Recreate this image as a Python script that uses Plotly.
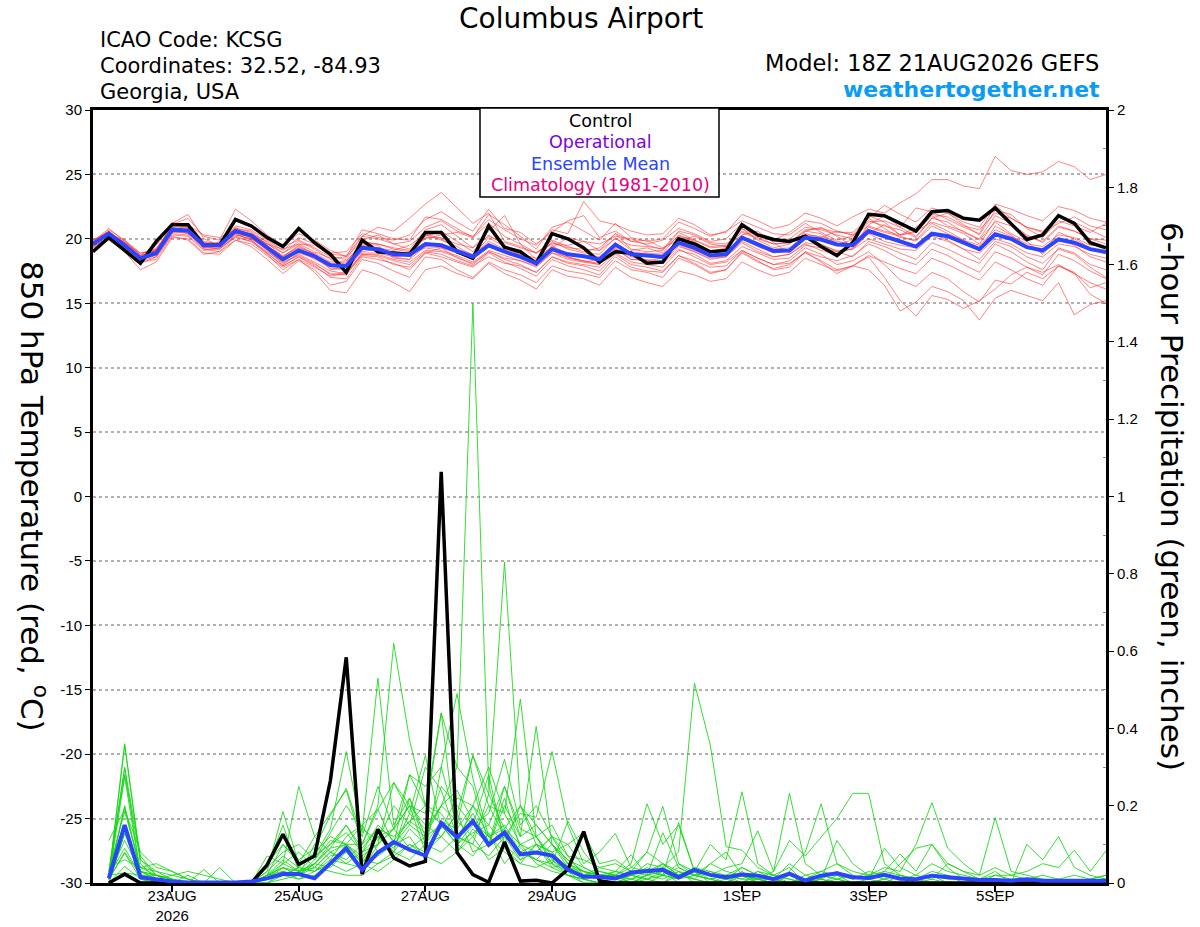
import pandas as pd
import plotly.graph_objects as go

# 6-hourly forecast times, 18Z 21AUG2026 run
times = pd.date_range("2026-08-21 18:00", periods=65, freq="6h")

tick_dates = ["2026-08-23", "2026-08-25", "2026-08-27", "2026-08-29",
              "2026-09-01", "2026-09-03", "2026-09-05"]
tick_labels = ["23AUG<br>2026", "25AUG", "27AUG", "29AUG", "1SEP", "3SEP", "5SEP"]

temp_ticks = [-30, -25, -20, -15, -10, -5, 0, 5, 10, 15, 20, 25, 30]
temp_tick_labels = ["-30", "-25", "-20", "-15", "-10", "-5", "0", "5", "10", "15", "20", "25", "30"]

# 850 hPa temperature (C)
control_t = [19.0, 20.1, 19.1, 18.1, 19.8, 21.1, 21.1, 19.5, 19.5, 21.5, 21.0, 20.1, 19.4,
             20.8, 19.7, 18.8, 17.4, 19.9, 19.0, 18.9, 18.8, 20.5, 20.5, 19.0, 18.5, 21.0,
             19.35, 19.0, 18.1, 20.4, 20.0, 19.3, 18.2, 19.0, 18.9, 18.1, 18.2, 20.0, 19.6,
             19.0, 19.1, 21.1, 20.3, 19.95, 19.8, 20.2, 19.4, 18.7, 19.7, 21.9, 21.8, 21.2,
             20.6, 22.1, 22.2, 21.6, 21.45, 22.4, 21.2, 19.95, 20.3, 21.8, 21.2, 19.7, 19.3]

mean_t = [19.6, 20.4, 19.5, 18.5, 18.9, 20.7, 20.65, 19.5, 19.5, 20.6, 20.25, 19.3, 18.4,
          19.1, 18.65, 17.95, 17.9, 19.3, 19.2, 18.8, 18.75, 19.6, 19.5, 19.05, 18.6, 19.5,
          19.0, 18.6, 18.1, 19.2, 18.8, 18.65, 18.4, 19.55, 18.8, 18.7, 18.6, 19.7, 19.3,
          18.7, 18.8, 20.1, 19.55, 19.05, 19.1, 20.1, 19.95, 19.56, 19.5, 20.6, 20.2, 19.8,
          19.4, 20.4, 20.2, 19.7, 19.2, 20.35, 20.0, 19.35, 19.1, 19.95, 19.7, 19.2, 18.97]

member_t = [
    [19.8, 20.6, 19.6, 18.4, 19.2, 21.0, 21.2, 19.8, 19.6, 21.4, 20.9, 20.1, 19.4,
     19.9, 19.3, 18.6, 18.4, 20.2, 20.0, 19.6, 19.8, 20.9, 21.4, 20.6, 20.2, 21.5,
     20.7, 20.0, 19.5, 20.7, 20.4, 22.9, 21.4, 21.1, 20.6, 20.3, 20.4, 21.6, 21.1,
     20.3, 20.5, 21.9, 21.4, 20.8, 21.1, 22.0, 21.6, 21.0, 21.7, 22.3, 22.0, 22.8,
     23.5, 24.6, 24.6, 24.1, 23.9, 26.4, 25.3, 25.0, 25.2, 26.0, 25.6, 24.6, 25.0],
    [19.4, 20.1, 19.2, 18.1, 18.6, 20.3, 20.2, 19.1, 19.3, 20.1, 19.8, 18.9, 17.9,
     18.6, 17.9, 17.0, 16.9, 18.6, 18.4, 18.1, 17.6, 18.9, 18.6, 18.2, 17.8, 18.9,
     18.2, 17.7, 17.1, 18.4, 17.9, 17.6, 17.2, 18.6, 17.8, 17.5, 17.4, 18.7, 18.1,
     17.4, 17.6, 19.0, 18.3, 17.6, 17.8, 19.0, 18.2, 17.3, 17.9, 17.6, 16.4, 14.4,
     15.1, 16.3, 15.9, 15.2, 13.7, 15.4, 16.0, 15.6, 15.2, 16.6, 14.1, 14.9, 15.2],
    [19.7, 20.3, 19.8, 18.8, 18.7, 20.9, 20.4, 19.3, 19.8, 20.8, 20.6, 19.7, 18.6,
     19.4, 18.8, 17.6, 17.8, 19.6, 19.5, 18.5, 18.4, 20.3, 19.9, 19.4, 18.7, 20.1,
     19.4, 18.9, 18.3, 19.8, 19.2, 18.9, 18.8, 20.1, 19.1, 19.3, 18.9, 20.3, 19.8,
     19.0, 19.3, 20.8, 19.9, 19.3, 19.6, 20.4, 20.1, 20.6, 20.3, 21.6, 20.8, 20.1,
     19.9, 21.2, 20.6, 19.9, 19.1, 21.0, 20.3, 19.4, 18.9, 20.5, 20.0, 19.3, 18.8],
    [19.5, 20.7, 19.9, 18.7, 19.6, 21.3, 20.9, 19.2, 19.0, 20.2, 20.4, 19.8, 18.9,
     19.8, 19.2, 18.4, 18.0, 19.9, 20.3, 19.6, 19.2, 20.7, 21.1, 20.2, 19.3, 20.6,
     21.8, 19.6, 18.4, 19.3, 20.1, 19.8, 19.1, 20.4, 19.8, 19.9, 19.3, 19.9, 20.2,
     19.6, 19.4, 20.3, 20.6, 19.7, 18.9, 20.6, 20.9, 20.2, 19.4, 21.1, 21.8, 20.9,
     20.2, 21.6, 22.0, 21.1, 20.3, 22.2, 21.9, 20.8, 20.1, 21.4, 21.0, 20.5, 21.2],
    [19.6, 20.2, 19.3, 18.3, 18.9, 20.5, 20.8, 19.7, 19.4, 20.4, 19.9, 19.0, 18.2,
     18.7, 18.1, 17.2, 17.4, 18.8, 18.7, 18.3, 18.0, 19.0, 18.8, 18.3, 17.9, 18.6,
     18.1, 17.9, 17.4, 18.6, 18.2, 18.0, 17.8, 18.9, 18.2, 18.0, 17.8, 19.1, 18.8,
     18.1, 18.3, 19.4, 18.9, 18.4, 18.5, 19.5, 19.3, 19.0, 18.6, 19.8, 19.4, 18.9,
     18.4, 19.7, 19.2, 18.6, 18.1, 19.6, 19.0, 18.2, 17.6, 19.3, 18.9, 18.0, 17.6],
    [19.9, 20.5, 19.7, 18.6, 19.1, 21.1, 21.6, 20.2, 19.9, 22.3, 21.4, 20.3, 19.5,
     20.4, 19.9, 19.1, 18.6, 20.7, 20.4, 20.0, 19.9, 21.7, 21.5, 20.8, 20.1, 21.9,
     21.1, 20.2, 19.2, 20.9, 21.3, 20.6, 19.9, 21.2, 20.1, 19.8, 20.0, 21.3, 20.8,
     20.2, 20.6, 21.4, 20.9, 20.4, 20.3, 21.2, 20.5, 19.9, 20.2, 21.4, 21.0, 20.7,
     20.1, 21.6, 21.3, 20.5, 20.0, 21.8, 21.2, 20.3, 19.7, 20.9, 20.6, 20.0, 19.6],
    [19.3, 19.9, 19.0, 17.6, 18.2, 20.1, 20.0, 18.9, 18.8, 19.9, 19.4, 18.4, 17.3,
     18.3, 17.6, 16.4, 16.7, 18.4, 18.1, 17.5, 17.0, 18.6, 18.4, 17.6, 17.0, 18.2,
     17.6, 17.2, 16.6, 17.9, 17.5, 17.3, 17.0, 18.3, 17.6, 17.4, 17.0, 18.5, 18.0,
     17.3, 17.6, 18.9, 18.2, 17.7, 18.0, 19.0, 18.6, 18.3, 18.7, 19.6, 19.1, 18.4,
     18.0, 19.2, 18.7, 18.0, 17.4, 19.0, 18.5, 17.8, 17.2, 18.8, 18.3, 17.5, 16.9],
    [19.6, 20.4, 19.9, 18.9, 19.0, 21.2, 21.9, 20.0, 19.5, 20.9, 20.1, 19.2, 18.3,
     19.2, 18.4, 17.9, 17.6, 19.3, 19.0, 18.8, 18.9, 20.2, 20.6, 19.8, 19.0, 20.3,
     19.5, 18.7, 18.0, 19.5, 18.6, 18.3, 18.0, 19.2, 18.6, 18.3, 18.5, 19.5, 19.0,
     18.5, 18.6, 19.8, 19.2, 18.6, 18.8, 19.6, 19.1, 18.8, 19.3, 20.4, 21.1, 20.3,
     20.5, 21.8, 21.0, 20.6, 19.9, 21.3, 20.4, 19.8, 18.8, 20.1, 19.5, 18.6, 18.2],
    [19.4, 20.0, 19.1, 18.2, 18.4, 20.2, 19.9, 18.8, 19.0, 19.9, 19.6, 18.7, 17.8,
     18.4, 17.4, 16.0, 15.8, 17.6, 17.2, 16.6, 15.9, 17.6, 17.9, 17.3, 16.9, 18.1,
     17.3, 16.8, 16.1, 17.6, 17.1, 16.9, 16.4, 17.8, 17.0, 16.6, 16.3, 17.5, 17.2,
     16.7, 16.9, 18.2, 17.6, 17.1, 17.4, 18.5, 18.0, 17.5, 17.9, 18.7, 18.2, 17.7,
     17.3, 18.5, 18.0, 17.4, 16.8, 18.2, 17.6, 16.9, 16.4, 17.9, 17.3, 16.6, 16.1],
    [19.7, 20.5, 19.4, 18.5, 19.3, 20.8, 20.5, 19.6, 19.7, 20.6, 20.0, 19.4, 18.7,
     19.3, 18.9, 18.2, 18.3, 19.5, 19.3, 19.1, 19.5, 20.4, 20.0, 19.2, 18.8, 19.8,
     19.2, 18.8, 18.5, 19.4, 18.9, 18.7, 18.6, 19.7, 18.9, 18.9, 18.8, 19.9, 19.5,
     18.9, 19.0, 20.2, 19.6, 19.2, 19.3, 20.3, 20.2, 19.8, 19.6, 20.9, 20.5, 20.2,
     19.8, 21.0, 20.4, 19.9, 19.5, 20.7, 20.2, 19.6, 19.4, 20.3, 20.1, 19.5, 19.4],
    [19.8, 20.8, 19.8, 18.7, 19.5, 21.1, 21.0, 19.7, 19.6, 21.0, 20.7, 19.9, 19.1,
     20.1, 19.6, 18.9, 19.0, 20.4, 20.1, 19.9, 20.3, 21.5, 22.1, 21.3, 20.6, 22.3,
     20.8, 20.5, 19.6, 20.5, 21.4, 21.8, 20.1, 20.6, 19.8, 19.6, 19.9, 20.8, 20.4,
     19.8, 20.0, 21.2, 20.3, 19.8, 20.0, 20.9, 20.7, 20.3, 20.0, 21.3, 21.4, 20.9,
     22.4, 22.1, 21.5, 20.9, 20.4, 22.6, 21.6, 20.9, 20.6, 21.8, 21.3, 20.7, 20.1],
    [19.5, 20.3, 19.5, 18.6, 18.8, 20.6, 20.4, 19.4, 19.2, 20.3, 20.0, 19.2, 18.1,
     18.8, 18.2, 17.5, 17.3, 18.9, 18.9, 18.6, 18.8, 19.3, 19.1, 18.7, 18.2, 19.1,
     18.7, 18.3, 17.8, 18.9, 18.4, 18.2, 18.0, 19.2, 18.4, 18.4, 18.2, 19.4, 19.0,
     18.4, 18.6, 19.7, 19.0, 18.6, 18.8, 19.7, 19.5, 19.1, 19.2, 20.0, 19.6, 19.2,
     19.1, 20.2, 19.8, 19.2, 18.9, 20.0, 19.6, 18.9, 18.6, 19.6, 19.4, 18.8, 18.5],
    [19.6, 20.2, 19.4, 18.6, 19.2, 20.6, 21.1, 20.3, 20.1, 20.7, 20.4, 19.6, 19.2,
     19.6, 19.5, 18.8, 18.7, 20.2, 20.9, 20.6, 21.6, 22.7, 23.6, 22.4, 21.2, 22.0,
     19.8, 19.4, 18.9, 19.6, 19.5, 19.8, 19.6, 20.2, 20.0, 19.5, 19.2, 20.6, 20.3,
     19.7, 19.6, 20.6, 20.1, 19.6, 19.7, 20.6, 20.4, 19.6, 19.9, 21.8, 21.3, 20.3,
     20.6, 21.3, 20.9, 20.4, 19.6, 21.4, 21.0, 20.2, 19.8, 21.0, 20.6, 20.0, 19.9],
    [19.5, 20.4, 19.6, 18.4, 18.9, 20.7, 20.6, 19.5, 19.6, 20.5, 20.1, 19.1, 18.0,
     18.9, 18.5, 17.7, 17.6, 19.0, 19.2, 18.6, 18.4, 19.4, 19.3, 18.9, 18.4, 19.4,
     19.0, 18.6, 18.0, 19.1, 18.5, 18.3, 18.1, 19.3, 18.4, 18.3, 18.1, 19.2, 18.6,
     18.0, 18.2, 19.1, 18.5, 18.0, 18.3, 19.3, 18.8, 18.0, 18.3, 19.0, 18.0, 16.8,
     16.3, 17.4, 16.9, 15.9, 15.1, 16.8, 16.5, 17.4, 16.9, 17.9, 17.4, 16.2, 16.6],
    [19.7, 20.5, 19.7, 18.9, 19.1, 20.9, 20.7, 19.6, 19.5, 20.8, 20.5, 19.5, 18.6,
     19.5, 18.8, 18.1, 18.2, 19.7, 19.6, 19.2, 19.0, 20.1, 20.1, 19.6, 19.3, 20.2,
     19.7, 19.3, 18.9, 19.7, 19.3, 19.2, 19.1, 20.0, 19.5, 19.4, 19.2, 20.2, 19.9,
     19.3, 19.4, 20.5, 20.0, 19.6, 19.7, 20.7, 20.8, 20.5, 20.5, 21.6, 22.6, 21.9,
     21.3, 22.4, 22.0, 21.3, 20.9, 22.7, 22.3, 21.8, 21.4, 22.5, 22.2, 21.6, 21.3],
    [19.4, 20.1, 19.3, 18.3, 18.6, 20.4, 20.3, 19.2, 19.2, 20.2, 19.8, 18.8, 17.6,
     18.4, 17.8, 17.1, 17.3, 18.7, 18.6, 18.0, 17.8, 18.9, 19.3, 18.5, 18.1, 19.0,
     18.5, 18.3, 17.9, 18.9, 18.6, 18.2, 18.4, 19.6, 18.9, 18.6, 18.7, 19.6, 19.1,
     18.7, 18.8, 20.0, 19.4, 18.9, 19.1, 20.0, 19.6, 19.0, 19.2, 20.4, 19.8, 19.5,
     19.3, 20.4, 19.9, 19.2, 18.4, 19.8, 19.4, 18.6, 18.1, 19.2, 18.8, 17.8, 17.0],
    [19.9, 20.6, 19.6, 18.5, 19.0, 20.8, 20.9, 19.6, 19.5, 20.6, 20.3, 19.6, 18.9,
     19.6, 19.0, 18.5, 18.6, 19.8, 19.6, 19.3, 19.1, 20.0, 20.3, 20.5, 20.1, 21.2,
     20.2, 19.6, 18.9, 19.9, 19.4, 19.0, 19.3, 20.4, 19.2, 19.0, 19.1, 20.5, 19.9,
     19.4, 19.5, 20.8, 20.2, 19.9, 20.5, 21.4, 21.2, 20.6, 20.3, 21.0, 20.6, 20.3,
     20.9, 21.9, 21.7, 21.0, 20.7, 22.0, 21.6, 20.9, 20.5, 21.2, 21.7, 21.0, 20.7],
    [19.5, 20.3, 19.5, 18.4, 18.7, 20.5, 20.5, 19.3, 19.3, 20.4, 19.9, 18.9, 17.9,
     18.6, 18.0, 17.3, 17.2, 18.8, 18.8, 18.4, 18.2, 19.1, 19.0, 18.6, 18.0, 19.0,
     18.4, 18.0, 17.4, 18.6, 18.1, 17.9, 17.5, 18.8, 18.0, 17.8, 17.5, 18.7, 18.3,
     17.8, 17.9, 19.1, 18.5, 18.0, 18.1, 18.9, 18.3, 17.6, 17.9, 18.6, 17.0, 15.2,
     14.0, 15.6, 15.3, 14.6, 15.2, 16.1, 17.2, 17.8, 17.4, 18.0, 17.3, 15.7, 15.0],
]

# 6-hour precipitation (inches), from 00Z 22AUG
control_p = [0, 0.023, 0, 0, 0, 0, 0, 0, 0, 0, 0.047, 0.126, 0.048, 0.07, 0.265, 0.584,
             0.023, 0.139, 0.065, 0.044, 0.056, 1.064, 0.079, 0.022, 0.002, 0.106, 0.005, 0.007, 0, 0.035, 0.133, 0.005,
             0, 0, 0, 0, 0, 0, 0, 0, 0, 0, 0, 0, 0, 0, 0, 0,
             0, 0, 0, 0, 0, 0, 0, 0, 0, 0, 0, 0, 0, 0, 0, 0]

mean_p = [0.012, 0.15, 0.015, 0.009, 0.004, 0.001, 0.001, 0.001, 0.001, 0.004, 0.012, 0.023, 0.023, 0.012, 0.051, 0.09,
          0.034, 0.079, 0.106, 0.086, 0.071, 0.155, 0.118, 0.16, 0.099, 0.131, 0.074, 0.079, 0.071, 0.035, 0.016, 0.016,
          0.012, 0.027, 0.031, 0.034, 0.015, 0.034, 0.021, 0.015, 0.022, 0.019, 0.01, 0.024, 0.006, 0.019, 0.025, 0.015,
          0.013, 0.021, 0.011, 0.01, 0.019, 0.015, 0.01, 0.008, 0.008, 0.006, 0.01, 0.006, 0.006, 0.006, 0.006, 0.006]

member_p = [
    [0.02, 0.36, 0.05, 0.01, 0, 0, 0, 0, 0, 0, 0.03, 0.07, 0.04, 0.08, 0.12, 0.1,
     0.15, 0.19, 0.1, 0.28, 0.2, 0.44, 0.3, 1.5, 0.25, 0.12, 0.08, 0.06, 0.04, 0.02, 0.01, 0,
     0, 0, 0.02, 0.03, 0, 0, 0, 0, 0, 0, 0, 0, 0, 0, 0, 0,
     0, 0, 0, 0, 0, 0, 0, 0, 0, 0, 0, 0, 0, 0, 0, 0],
    [0.01, 0.3, 0.02, 0, 0, 0, 0, 0, 0, 0, 0.02, 0.04, 0.02, 0.05, 0.09, 0.15,
     0.08, 0.12, 0.14, 0.2, 0.15, 0.12, 0.18, 0.33, 0.23, 0.83, 0.2, 0.12, 0.06, 0.03, 0, 0,
     0.02, 0, 0, 0, 0.03, 0, 0, 0, 0, 0, 0, 0, 0, 0, 0, 0,
     0, 0, 0, 0, 0, 0, 0, 0, 0, 0, 0, 0, 0, 0, 0, 0],
    [0.03, 0.28, 0.06, 0.03, 0.01, 0, 0, 0, 0, 0, 0.05, 0.1, 0.05, 0.12, 0.18, 0.24,
     0.1, 0.2, 0.62, 0.37, 0.2, 0.15, 0.1, 0.07, 0.13, 0.05, 0.1, 0.05, 0.03, 0.02, 0.01, 0,
     0, 0, 0, 0, 0, 0, 0, 0, 0, 0, 0, 0, 0, 0, 0, 0,
     0, 0, 0, 0, 0, 0, 0, 0, 0, 0, 0, 0, 0, 0, 0, 0],
    [0.01, 0.2, 0.03, 0.02, 0, 0, 0, 0, 0, 0, 0.04, 0.15, 0.03, 0.07, 0.14, 0.34,
     0.13, 0.53, 0.15, 0.22, 0.12, 0.2, 0.16, 0.12, 0.2, 0.18, 0.476, 0.12, 0.05, 0.02, 0, 0,
     0, 0, 0, 0, 0, 0, 0, 0, 0, 0, 0, 0, 0, 0, 0, 0,
     0, 0, 0, 0, 0, 0, 0, 0, 0, 0, 0, 0, 0, 0, 0, 0],
    [0, 0.13, 0.02, 0, 0, 0, 0, 0, 0, 0, 0, 0.02, 0.01, 0.03, 0.05, 0.1,
     0.05, 0.12, 0.08, 0.14, 0.1, 0.08, 0.12, 0.1, 0.07, 0.12, 0.08, 0.06, 0.05, 0.03, 0.02, 0.04,
     0.03, 0.02, 0.05, 0.04, 0.08, 0.517, 0.357, 0.094, 0.085, 0.04, 0.02, 0.01, 0, 0, 0, 0,
     0, 0, 0, 0, 0, 0, 0, 0, 0, 0, 0, 0, 0, 0, 0, 0],
    [0.11, 0.19, 0.08, 0.04, 0.03, 0.01, 0, 0, 0, 0, 0.02, 0.05, 0.08, 0.04, 0.08, 0.05,
     0.08, 0.1, 0.26, 0.18, 0.33, 0.14, 0.22, 0.2, 0.15, 0.25, 0.12, 0.405, 0.1, 0.06, 0.03, 0.02,
     0.01, 0.02, 0.03, 0.02, 0.04, 0.02, 0.05, 0.03, 0.02, 0.01, 0.03, 0.11, 0.07, 0.12, 0.167, 0.232,
     0.232, 0.05, 0.02, 0.01, 0.03, 0.02, 0, 0, 0, 0, 0, 0, 0, 0, 0, 0],
    [0.02, 0.11, 0.03, 0.01, 0, 0, 0.035, 0, 0, 0, 0, 0.03, 0.02, 0.05, 0.04, 0.08,
     0.03, 0.1, 0.14, 0.2, 0.08, 0.3, 0.15, 0.33, 0.2, 0.12, 0.18, 0.17, 0.34, 0.15, 0.05, 0.08,
     0.128, 0.04, 0.08, 0.05, 0.02, 0.03, 0.1, 0.06, 0.236, 0.05, 0.02, 0.04, 0, 0.01, 0, 0,
     0, 0.01, 0, 0, 0, 0, 0, 0, 0, 0, 0, 0, 0, 0, 0, 0],
    [0.01, 0.08, 0.02, 0.02, 0, 0, 0, 0.04, 0, 0, 0.02, 0.1, 0.06, 0.09, 0.175, 0.245,
     0.12, 0.25, 0.14, 0.28, 0.25, 0.3, 0.49, 0.27, 0.12, 0.15, 0.08, 0.1, 0.05, 0.16, 0.08, 0.03,
     0.02, 0.05, 0.205, 0.1, 0.15, 0.03, 0.01, 0, 0.03, 0, 0, 0, 0, 0, 0, 0,
     0, 0, 0, 0, 0, 0, 0, 0, 0, 0, 0, 0, 0, 0, 0, 0],
    [0.04, 0.06, 0.04, 0.05, 0.03, 0.01, 0, 0, 0, 0, 0.07, 0.05, 0.25, 0.12, 0.08, 0.1,
     0.1, 0.19, 0.26, 0.2, 0.18, 0.44, 0.1, 0.15, 0.28, 0.1, 0.06, 0.08, 0.12, 0.1, 0.13, 0.05,
     0.06, 0.03, 0.08, 0.198, 0.05, 0.03, 0.02, 0.04, 0.05, 0.135, 0.03, 0.232, 0.05, 0.02, 0.01, 0,
     0, 0, 0.02, 0.01, 0, 0, 0, 0, 0, 0, 0, 0, 0, 0, 0, 0],
    [0, 0.043, 0.01, 0, 0, 0, 0, 0, 0, 0, 0.01, 0.02, 0.04, 0.03, 0.06, 0.05,
     0.04, 0.07, 0.1, 0.12, 0.06, 0.15, 0.1, 0.2, 0.12, 0.08, 0.05, 0.1, 0.08, 0.04, 0.02, 0.01,
     0, 0.02, 0.04, 0.02, 0.01, 0.03, 0, 0.02, 0.04, 0.02, 0.01, 0.05, 0.02, 0.03, 0.05, 0.03,
     0.02, 0.04, 0.03, 0.1, 0.208, 0.09, 0.05, 0.02, 0.169, 0.03, 0.02, 0.01, 0, 0, 0, 0],
    [0.02, 0.026, 0.02, 0.01, 0.02, 0.01, 0, 0, 0, 0, 0, 0.01, 0.02, 0.04, 0.03, 0.02,
     0.02, 0.05, 0.08, 0.06, 0.1, 0.12, 0.08, 0.14, 0.1, 0.22, 0.09, 0.06, 0.1, 0.04, 0.03, 0.02,
     0.01, 0, 0.02, 0.05, 0.03, 0.02, 0.01, 0, 0.02, 0, 0, 0.03, 0.08, 0.205, 0.05, 0.02,
     0.01, 0.09, 0.04, 0.02, 0.05, 0.03, 0.02, 0.01, 0.03, 0, 0.1, 0.06, 0.12, 0.04, 0.02, 0.01],
    [0.01, 0.077, 0.01, 0, 0, 0, 0, 0, 0, 0, 0.02, 0.03, 0.01, 0.02, 0.05, 0.03,
     0.05, 0.03, 0.06, 0.1, 0.07, 0.05, 0.08, 0.12, 0.06, 0.09, 0.05, 0.04, 0.06, 0.02, 0.01, 0,
     0, 0.01, 0, 0.02, 0.156, 0.03, 0.02, 0.01, 0.04, 0.02, 0.01, 0, 0.02, 0.01, 0.03, 0.01,
     0.02, 0.03, 0.075, 0.03, 0.1, 0.05, 0.03, 0.02, 0.04, 0.02, 0.03, 0.05, 0.04, 0.085, 0.03, 0.083],
    [0.03, 0.185, 0.04, 0.02, 0.01, 0, 0, 0, 0, 0, 0.03, 0.185, 0.05, 0.07, 0.1, 0.15,
     0.09, 0.14, 0.12, 0.16, 0.2, 0.18, 0.12, 0.1, 0.23, 0.14, 0.2, 0.1, 0.08, 0.1, 0.04, 0.02,
     0.03, 0.073, 0.02, 0.01, 0.03, 0.01, 0, 0, 0, 0.01, 0, 0.02, 0, 0, 0, 0,
     0, 0, 0, 0, 0, 0, 0, 0, 0, 0, 0, 0, 0, 0, 0, 0],
    [0.02, 0.197, 0.03, 0.01, 0, 0.02, 0, 0, 0, 0, 0.01, 0.04, 0.02, 0.1, 0.06, 0.12,
     0.15, 0.08, 0.1, 0.15, 0.12, 0.25, 0.2, 0.15, 0.18, 0.32, 0.15, 0.2, 0.12, 0.07, 0.06, 0.04,
     0.05, 0.03, 0.02, 0.13, 0.04, 0.02, 0.01, 0.02, 0, 0.03, 0.02, 0.01, 0, 0.01, 0.11, 0.05,
     0.02, 0.01, 0.05, 0.09, 0.1, 0.04, 0.01, 0, 0.02, 0.01, 0.01, 0.02, 0.01, 0, 0.01, 0.02],
    [0.01, 0.275, 0.02, 0, 0, 0, 0, 0, 0, 0, 0.02, 0.06, 0.03, 0.05, 0.09, 0.1,
     0.06, 0.12, 0.09, 0.18, 0.14, 0.2, 0.3, 0.25, 0.1, 0.2, 0.12, 0.15, 0.1, 0.06, 0.04, 0.02,
     0.02, 0.01, 0.03, 0.02, 0.05, 0.02, 0.03, 0.01, 0.02, 0.01, 0, 0, 0.01, 0, 0.02, 0,
     0, 0.01, 0.02, 0, 0.01, 0, 0, 0, 0, 0, 0, 0, 0, 0, 0, 0],
    [0.03, 0.297, 0.07, 0.02, 0.01, 0, 0, 0, 0, 0, 0.01, 0.03, 0.02, 0.06, 0.11, 0.1,
     0.07, 0.1, 0.14, 0.09, 0.12, 0.15, 0.1, 0.13, 0.15, 0.1, 0.2, 0.15, 0.1, 0.05, 0.02, 0.01,
     0.03, 0.02, 0.01, 0.02, 0.01, 0.02, 0.01, 0.02, 0.01, 0.01, 0, 0, 0, 0.01, 0, 0,
     0, 0, 0, 0, 0, 0, 0, 0, 0, 0, 0, 0, 0, 0, 0, 0],
    [0, 0.128, 0.04, 0.03, 0.02, 0.03, 0.02, 0.01, 0, 0, 0.04, 0.08, 0.1, 0.06, 0.13, 0.2,
     0.14, 0.11, 0.2, 0.15, 0.3, 0.24, 0.12, 0.18, 0.1, 0.25, 0.14, 0.12, 0.15, 0.07, 0.02, 0.03,
     0.02, 0.04, 0.03, 0.05, 0.02, 0.04, 0.03, 0.02, 0.01, 0.03, 0.01, 0.02, 0.01, 0, 0.01, 0,
     0.01, 0, 0, 0.01, 0.02, 0, 0, 0, 0, 0, 0, 0, 0, 0, 0, 0],
    [0.02, 0.09, 0.02, 0.01, 0, 0, 0, 0, 0, 0, 0.02, 0.02, 0.04, 0.03, 0.07, 0.08,
     0.06, 0.05, 0.07, 0.1, 0.08, 0.12, 0.18, 0.08, 0.1, 0.12, 0.06, 0.1, 0.04, 0.05, 0.03, 0.01,
     0.02, 0, 0.01, 0.03, 0.02, 0.01, 0.05, 0.08, 0.02, 0.01, 0.02, 0, 0.01, 0.03, 0.02, 0.01,
     0.03, 0.02, 0.01, 0.02, 0.01, 0.05, 0.03, 0.01, 0.02, 0.02, 0.01, 0, 0.01, 0.02, 0.01, 0.02],
    [0.01, 0.357, 0.06, 0.02, 0.01, 0, 0, 0, 0, 0, 0.01, 0.05, 0.03, 0.04, 0.08, 0.06,
     0.1, 0.14, 0.08, 0.22, 0.1, 0.16, 0.14, 0.2, 0.3, 0.18, 0.1, 0.08, 0.12, 0.05, 0.03, 0.02,
     0.01, 0.02, 0.01, 0, 0.02, 0.01, 0, 0.01, 0, 0.02, 0.01, 0, 0, 0, 0, 0,
     0, 0, 0, 0, 0, 0, 0, 0, 0, 0, 0, 0, 0, 0, 0, 0],
    [0.02, 0.15, 0.03, 0.02, 0.01, 0, 0, 0, 0, 0, 0.02, 0.04, 0.03, 0.05, 0.1, 0.13,
     0.08, 0.15, 0.11, 0.16, 0.13, 0.2, 0.24, 0.16, 0.12, 0.14, 0.1, 0.12, 0.07, 0.04, 0.02, 0.02,
     0.02, 0.01, 0.02, 0.04, 0.02, 0.03, 0.02, 0.01, 0.02, 0.01, 0.01, 0.02, 0.01, 0.02, 0.01, 0.02,
     0.01, 0.03, 0.02, 0.01, 0.02, 0.01, 0.01, 0, 0.01, 0, 0, 0.01, 0, 0, 0, 0],
]

TICK_FONT = "Liberation Sans, Arial, sans-serif"
TEXT_FONT = "DejaVu Sans, sans-serif"
ptimes = times[1:]

fig = go.Figure()

# precipitation members (green, right axis)
for m in member_p:
    fig.add_trace(go.Scatter(x=ptimes, y=m, mode="lines", yaxis="y2",
                             line=dict(color="rgba(20,215,20,0.85)", width=1),
                             showlegend=False, hoverinfo="skip"))

# temperature members (red, left axis)
for m in member_t:
    fig.add_trace(go.Scatter(x=times, y=m, mode="lines",
                             line=dict(color="rgba(255,50,50,0.6)", width=1),
                             showlegend=False, hoverinfo="skip"))

fig.add_trace(go.Scatter(x=ptimes, y=control_p, mode="lines", yaxis="y2",
                         line=dict(color="black", width=3.5), showlegend=False))
fig.add_trace(go.Scatter(x=ptimes, y=mean_p, mode="lines", yaxis="y2",
                         line=dict(color="#2a44ff", width=4), showlegend=False))
fig.add_trace(go.Scatter(x=times, y=control_t, mode="lines",
                         line=dict(color="black", width=3.5), showlegend=False))
fig.add_trace(go.Scatter(x=times, y=mean_t, mode="lines",
                         line=dict(color="#2a44ff", width=4), showlegend=False))

fig.update_layout(
    width=1200, height=927,
    margin=dict(l=93, r=94, t=110, b=44),
    paper_bgcolor="white", plot_bgcolor="white",
    font=dict(family=TICK_FONT, color="black", size=14),
    showlegend=False,
    xaxis=dict(
        range=[times[0], times[-1]],
        tickvals=tick_dates, ticktext=tick_labels,
        ticks="outside", ticklen=6, tickwidth=2, tickcolor="black",
        ticklabelstandoff=-9,
        showgrid=False, zeroline=False, automargin=False,
        showline=True, linecolor="black", linewidth=3, mirror=True,
        tickfont=dict(size=15),
    ),
    yaxis=dict(
        range=[-30, 30], tickvals=temp_ticks, ticktext=temp_tick_labels,
        ticks="outside", ticklen=5, tickcolor="black",
        showgrid=True, gridcolor="#b0b0b0", griddash="dot", gridwidth=1.5,
        zeroline=False, automargin=False,
        showline=True, linecolor="black", linewidth=3,
        tickfont=dict(size=15),
    ),
    yaxis2=dict(
        range=[0, 2], dtick=0.2, tick0=0, overlaying="y", side="right",
        ticks="outside", ticklen=5, tickcolor="black",
        minor=dict(ticks="inside", ticklen=3, dtick=0.2, tick0=0.1, tickcolor="#888"),
        showgrid=False, zeroline=False, automargin=False,
        showline=True, linecolor="black", linewidth=3,
        tickfont=dict(size=15),
    ),
)


def px(sx):
    return (sx - 93) / 1013


def py(sy):
    return (883 - sy) / 773


annotations = [
    dict(text="Columbus Airport", x=581, y=19, size=28, xanchor="center"),
    dict(text="ICAO Code: KCSG", x=98, y=40, size=21, xanchor="left"),
    dict(text="Coordinates: 32.52, -84.93", x=98, y=66, size=21, xanchor="left"),
    dict(text="Georgia, USA", x=98, y=92, size=21, xanchor="left"),
    dict(text="Model: 18Z 21AUG2026 GEFS", x=1101, y=63, size=22.5, xanchor="right"),
    dict(text="<b>weathertogether.net</b>", x=1102, y=89, size=22, color="#0a9cf5",
         xanchor="right"),
    dict(text="850 hPa Temperature (red, <sup>o</sup>C)", x=34, y=496, size=31,
         xanchor="center", textangle=90),
    dict(text="6-hour Precipitation (green, inches)", x=1172, y=496, size=31,
         xanchor="center", textangle=90),
]
for a in annotations:
    fig.add_annotation(xref="paper", yref="paper", x=px(a["x"]), y=py(a["y"]),
                       xanchor=a["xanchor"], yanchor="middle", showarrow=False,
                       text=a["text"], textangle=a.get("textangle", 0),
                       font=dict(family=TEXT_FONT, size=a["size"],
                                 color=a.get("color", "black")))

# legend box
fig.add_shape(type="rect", xref="paper", yref="paper",
              x0=px(480), x1=px(719), y0=py(197), y1=py(108),
              line=dict(color="black", width=1.5), fillcolor="white", layer="above")
legend_items = [("Control", "black"), ("Operational", "#8000e0"),
                ("Ensemble Mean", "#2a44ff"), ("Climatology (1981-2010)", "#e6007e")]
for i, (label, color) in enumerate(legend_items):
    fig.add_annotation(xref="paper", yref="paper", x=px(600), y=py(121 + 21.4 * i),
                       xanchor="center", yanchor="middle", showarrow=False, text=label,
                       font=dict(family=TEXT_FONT, size=17.5, color=color))

# drop the browser's default 8px page margin so the figure sits at the window corner
fig.write_html("out.html", config={"displayModeBar": False},
               post_script="document.body.style.margin = '0';")
